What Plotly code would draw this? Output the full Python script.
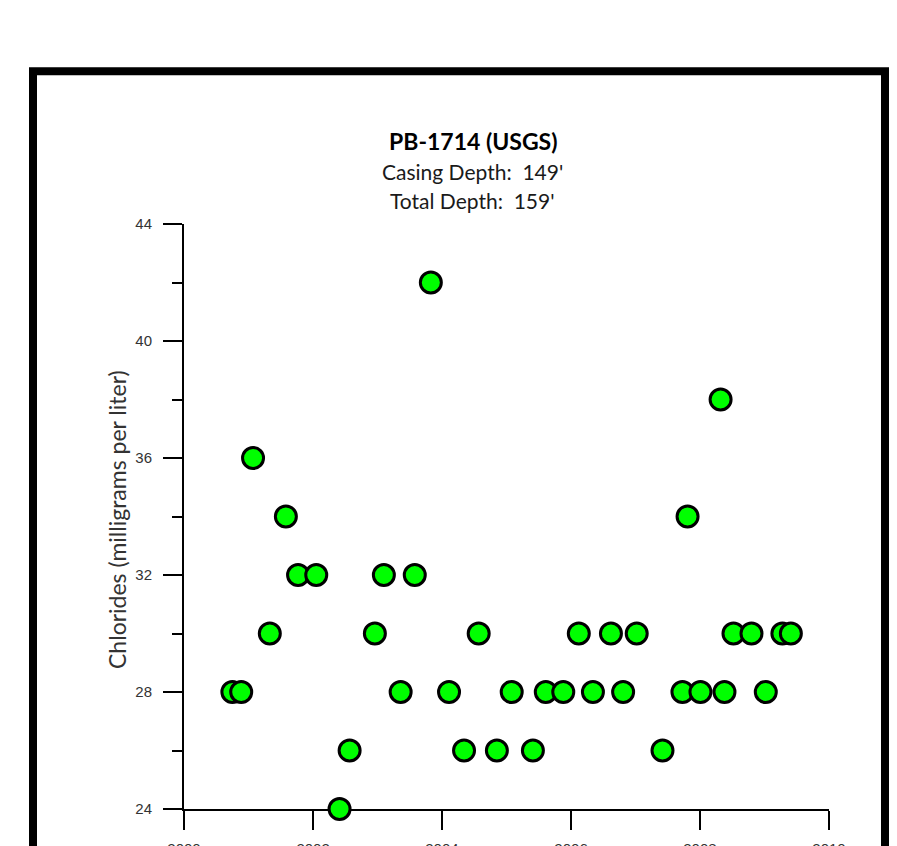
import plotly.graph_objects as go

# ---- data ----
sample_dates = [
    "2000-10-01", "2000-11-20", "2001-01-26", "2001-05-01", "2001-07-31",
    "2001-10-08", "2002-01-19", "2002-05-31", "2002-07-27", "2002-12-17",
    "2003-02-06", "2003-05-12", "2003-07-31", "2003-10-30", "2004-02-10",
    "2004-05-05", "2004-07-27", "2004-11-07", "2005-01-30", "2005-05-30",
    "2005-08-11", "2005-11-18", "2006-02-14", "2006-05-05", "2006-08-15",
    "2006-10-23", "2007-01-08", "2007-06-03", "2007-09-24", "2007-10-23",
    "2008-01-04", "2008-04-27", "2008-05-19", "2008-07-09", "2008-10-19",
    "2009-01-08", "2009-04-12", "2009-05-30",
]
chloride_mg_l = [
    28, 28, 36, 30, 34,
    32, 32, 24, 26, 30,
    32, 28, 32, 42, 28,
    26, 30, 26, 28, 26,
    28, 28, 30, 28, 30,
    28, 30, 26, 28, 34,
    28, 38, 28, 30, 30,
    28, 30, 30,
]
y_tick_values = [24, 28, 32, 36, 40, 44]
y_tick_labels = ["24", "28", "32", "36", "40", "44"]

title_line = "PB-1714 (USGS)"
subtitle_lines = ["Casing Depth:  149'", "Total Depth:  159'"]
y_title = "Chlorides (milligrams per liter)"

# ---- layout geometry (figure pixels; page body adds an 8px offset) ----
OFF = 8
W, H = 889, 838
ML, MR, MT, MB = 176, W - 821, 216, H - 801
PW, PH = W - ML - MR, H - MT - MB


def px_x(screen_px):
    return (screen_px - OFF - ML) / PW


def px_y(screen_py):
    return (H - MB - (screen_py - OFF)) / PH


fig = go.Figure()
fig.add_trace(go.Scatter(
    x=sample_dates,
    y=chloride_mg_l,
    mode="markers",
    cliponaxis=False,
    marker=dict(size=21, color="#00FF00", line=dict(color="black", width=3)),
    hoverinfo="x+y",
))

tick_font = dict(family="Liberation Sans, Arial, sans-serif", size=15, color="#333333")

fig.update_layout(
    template="none",
    width=W,
    height=H,
    margin=dict(l=ML, r=MR, t=MT, b=MB, pad=0),
    paper_bgcolor="white",
    plot_bgcolor="white",
    showlegend=False,
    xaxis=dict(
        type="date",
        range=["2000-01-01", "2010-01-01"],
        tick0="2000-01-01",
        dtick="M24",
        tickformat="%Y",
        showgrid=False,
        zeroline=False,
        showline=True,
        linecolor="black",
        linewidth=2,
        ticks="outside",
        ticklen=19,
        tickwidth=2,
        tickcolor="black",
        tickfont=tick_font,
        automargin=False,
        layer="below traces",
        ticklabelstandoff=6,
    ),
    yaxis=dict(
        range=[24, 44],
        tickmode="array",
        tickvals=y_tick_values,
        ticktext=y_tick_labels,
        showgrid=False,
        zeroline=False,
        showline=True,
        linecolor="black",
        linewidth=2,
        ticks="outside",
        ticklen=19,
        tickwidth=2,
        tickcolor="black",
        tickfont=tick_font,
        automargin=False,
        layer="below traces",
        ticklabelstandoff=8,
        minor=dict(dtick=2, tick0=24, ticks="outside", ticklen=10,
                   tickwidth=2, tickcolor="black", showgrid=False),
    ),
)

# outer frame
fig.add_shape(
    type="rect", xref="paper", yref="paper",
    x0=px_x(33), x1=px_x(885), y0=px_y(900), y1=px_y(71.3),
    line=dict(color="black", width=8), fillcolor="rgba(0,0,0,0)",
    layer="below",
)

title_font = "Lato, 'Open Sans', sans-serif"
fig.add_annotation(
    text="<b>" + title_line + "</b>", xref="paper", yref="paper",
    x=px_x(473), y=px_y(141), showarrow=False, xanchor="center", yanchor="middle",
    font=dict(family=title_font, size=23, color="black"),
)
for i, line in enumerate(subtitle_lines):
    fig.add_annotation(
        text=line, xref="paper", yref="paper",
        x=px_x(472), y=px_y(171 + 30 * i), showarrow=False,
        xanchor="center", yanchor="middle",
        font=dict(family=title_font, size=21, color="#1a1a1a"),
    )

fig.add_annotation(
    text=y_title, xref="paper", yref="paper",
    x=px_x(117), y=px_y(520), showarrow=False, textangle=-90,
    xanchor="center", yanchor="middle",
    font=dict(family=title_font, size=23, color="#333333"),
)

fig.write_html("out.html")
